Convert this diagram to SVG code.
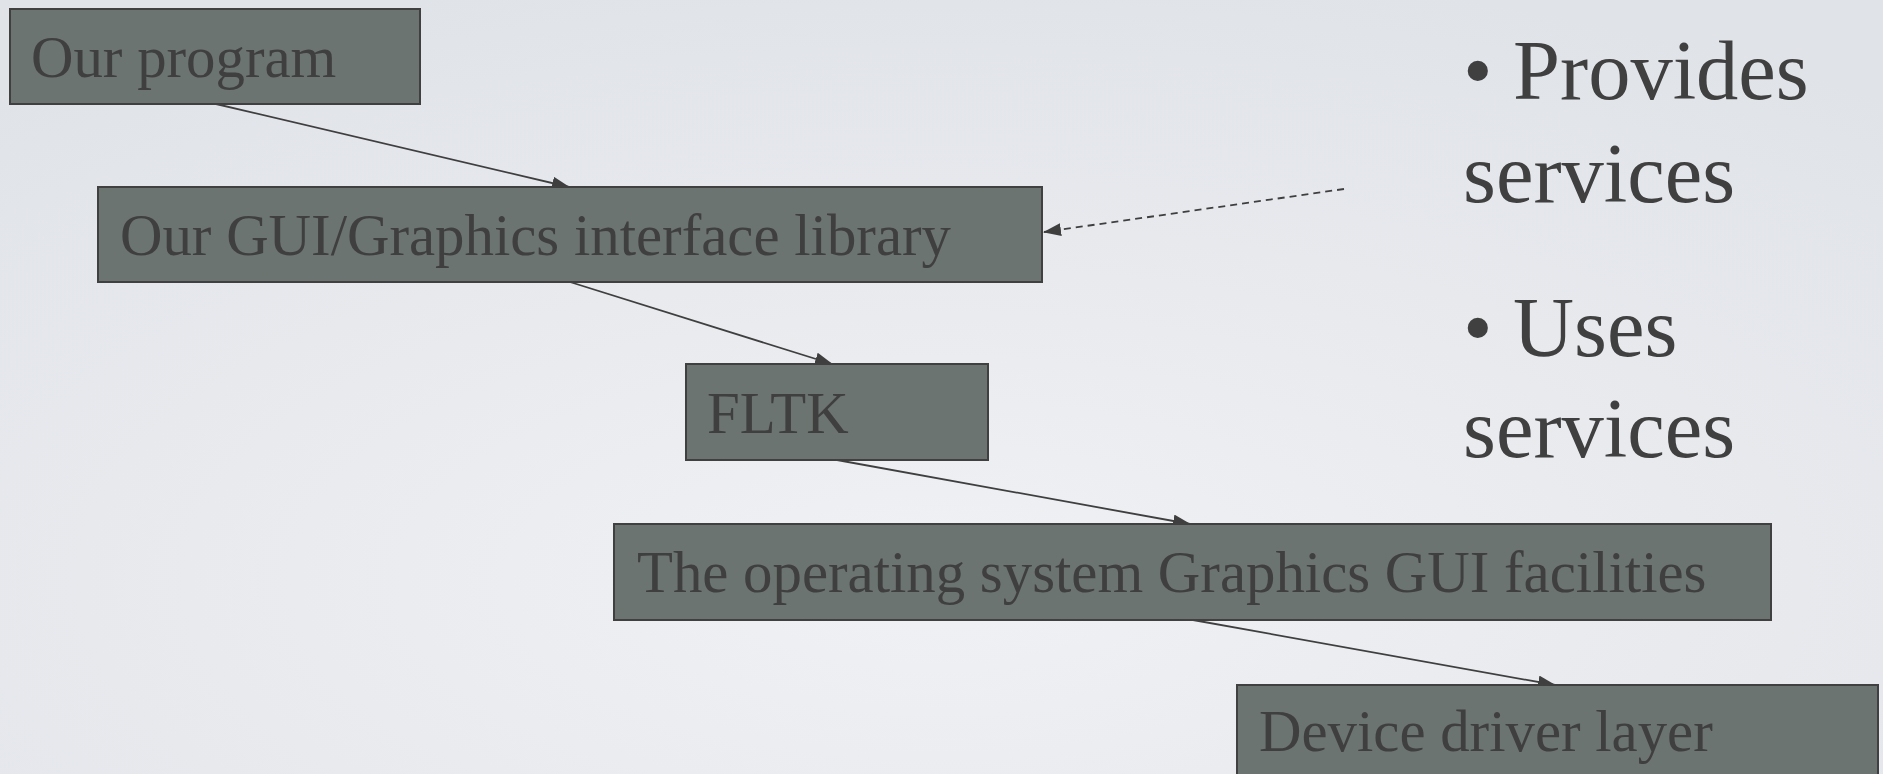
<svg xmlns="http://www.w3.org/2000/svg" width="1883" height="774" viewBox="0 0 1883 774">
<defs>
<radialGradient id="bg" cx="0.5" cy="0.75" r="0.8">
<stop offset="0" stop-color="#f0f1f4"/>
<stop offset="1" stop-color="#e0e3e8"/>
</radialGradient>
<marker id="ah" viewBox="0 0 18 13" refX="17" refY="6.5" markerWidth="18" markerHeight="13" markerUnits="userSpaceOnUse" orient="auto">
<path d="M0,0 L18,6.5 L0,13 Z" fill="#3f3f3f"/>
</marker>
<style>
.box{fill:#6b7470;stroke:#404040;stroke-width:2}
.lbl{font-family:"Liberation Serif","Times New Roman",serif;font-size:58.8px;fill:#3f3f3f}
.side{font-family:"Liberation Serif","Times New Roman",serif;font-size:84.5px;fill:#404040}
.con{stroke:#3f3f3f;stroke-width:1.8;fill:none}
</style>
</defs>
<rect width="1883" height="774" fill="url(#bg)"/>
<g id="connectors">
<line class="con" x1="216" y1="104" x2="569" y2="187" marker-end="url(#ah)"/>
<line class="con" x1="570" y1="282" x2="832" y2="364" marker-end="url(#ah)"/>
<line class="con" x1="837" y1="460" x2="1190" y2="524" marker-end="url(#ah)"/>
<line class="con" x1="1193" y1="620" x2="1555" y2="685" marker-end="url(#ah)"/>
<line class="con" x1="1344" y1="189" x2="1044" y2="232" stroke-dasharray="7,5" marker-end="url(#ah)"/>
</g>
<g id="n-program">
<rect class="box" x="10" y="9" width="410" height="95"/>
<text class="lbl" x="31" y="77">Our program</text>
</g>
<g id="n-gui">
<rect class="box" x="98" y="187" width="944" height="95"/>
<text class="lbl" x="120" y="255">Our GUI/Graphics interface library</text>
</g>
<g id="n-fltk">
<rect class="box" x="686" y="364" width="302" height="96"/>
<text class="lbl" x="707" y="433">FLTK</text>
</g>
<g id="n-os">
<rect class="box" x="614" y="524" width="1157" height="96"/>
<text class="lbl" x="637" y="592">The operating system Graphics GUI facilities</text>
</g>
<g id="n-device">
<rect class="box" x="1237" y="685" width="641" height="100"/>
<text class="lbl" x="1259" y="751">Device driver layer</text>
</g>
<g id="legend">
<text class="side" x="1463" y="99">•</text>
<text class="side" x="1513" y="99">Provides</text>
<text class="side" x="1463" y="202">services</text>
<text class="side" x="1463" y="356">•</text>
<text class="side" x="1513" y="356">Uses</text>
<text class="side" x="1463" y="457">services</text>
</g>
</svg>
